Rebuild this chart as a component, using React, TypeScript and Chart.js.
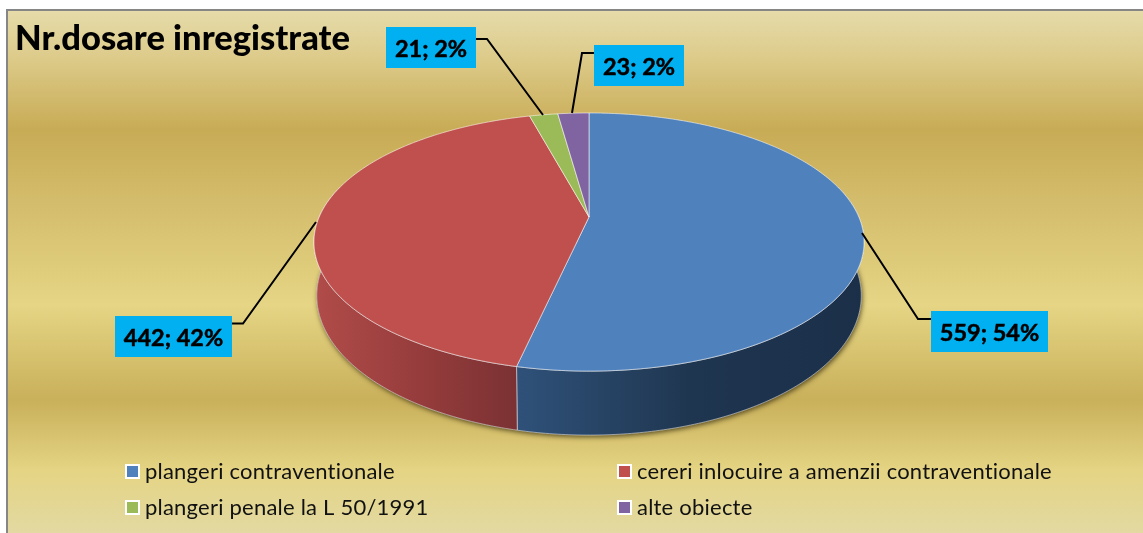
import React, { useEffect, useRef } from "react";
import { Chart, registerables, ArcElement, PieController } from "chart.js";

const categories = ["plangeri contraventionale", "cereri inlocuire a amenzii contraventionale", "plangeri penale la L 50/1991", "alte obiecte"];
const values = [559, 442, 21, 23];
const percents = [54, 42, 2, 2];
const topColors = ["#4f81bd", "#c0504d", "#9bbb59", "#8064a2"];
const titleText = "Nr.dosare inregistrate";

const WALL = [
  [[518, "#2f5179"], [690, "#1f3650"], [864, "#1b2f49"]],
  [[316, "#b04c49"], [420, "#963c3c"], [520, "#7a3133"]],
  [[530, "#7a8f45"], [560, "#7a8f45"]],
  [[560, "#5f4a7a"], [590, "#5f4a7a"]],
] as [number, string][][];

const labelBoxes = [
  { x: 931, y: 311, w: 117, h: 41, line: [[931, 319], [918, 319], [862, 233]] },
  { x: 115, y: 316, w: 117, h: 41, line: [[232, 323.5], [243, 323.5], [316, 222]] },
  { x: 386, y: 27, w: 90, h: 41, line: [[476, 39], [487, 39], [543, 115]] },
  { x: 594, y: 45, w: 90, h: 41, line: [[594, 53], [582, 53], [572, 113]] },
];
const legendPos = [[126, 472], [618, 472], [126, 508], [618, 508]];

const CX = 589, CY = 217, K = 0.194, AY = 124.2, BX = 269.8, DEPTH = 51.6;
const project = (a: number, r = 1, depth = 0, s = 1) => {
  const u = Math.cos(a) * r, v = Math.sin(a) * r, w = 1 - K * v;
  return [CX + (BX * s * u) / w, CY + (AY * v + depth) / w];
};
const SANS = "Lato, 'Open Sans', sans-serif";

function topPath(ctx: CanvasRenderingContext2D, a0: number, a1: number) {
  ctx.beginPath();
  ctx.moveTo(CX, CY);
  const n = Math.max(4, Math.ceil((a1 - a0) * 80));
  for (let i = 0; i <= n; i++) {
    const p = project(a0 + ((a1 - a0) * i) / n);
    ctx.lineTo(p[0], p[1]);
  }
  ctx.closePath();
}

class Arc3D extends ArcElement {
  static id = "arc3d";
  draw(ctx: CanvasRenderingContext2D) {
    const { startAngle, endAngle } = (this as any).getProps(["startAngle", "endAngle"]);
    ctx.save();
    topPath(ctx, startAngle, endAngle);
    ctx.fillStyle = (this as any).options.backgroundColor;
    ctx.fill();
    ctx.strokeStyle = "rgba(255,255,255,0.55)";
    ctx.lineWidth = 1;
    ctx.stroke();
    ctx.restore();
  }
}
class Pie3D extends PieController {
  static id = "pie3d";
  static defaults = { ...PieController.defaults, dataElementType: "arc3d" };
}
Chart.register(...registerables, Arc3D, Pie3D);

const decor = {
  id: "decor",
  beforeDraw(chart: any) {
    const { ctx, width, height } = chart;
    ctx.save();
    ctx.fillStyle = "#fff";
    ctx.fillRect(0, 0, width, height);
    const g = ctx.createLinearGradient(0, 9, 0, 533);
    const stops: [number, string][] = [
      [9, "#e6dcab"], [60, "#dcca88"], [130, "#c8ab55"], [200, "#d3bc6b"], [305, "#e5d584"],
      [400, "#c9b05b"], [470, "#e4d483"], [533, "#e3d9a2"],
    ];
    stops.forEach(([y, c]) => g.addColorStop((y - 9) / 524, c));
    ctx.fillStyle = g;
    ctx.fillRect(7, 9, width, height);
    ctx.strokeStyle = "#868686";
    ctx.lineWidth = 2;
    ctx.strokeRect(7, 10, width, height);
    ctx.restore();
  },
  beforeDatasetsDraw(chart: any) {
    const { ctx } = chart;
    const arcs = chart.getDatasetMeta(0).data;
    ctx.save();
    ctx.save();
    ctx.shadowColor = "rgba(50,40,10,0.75)";
    ctx.shadowBlur = 5;
    ctx.shadowOffsetY = 2;
    ctx.shadowOffsetX = 1;
    ctx.fillStyle = "#333";
    ctx.beginPath();
    for (let i = 0; i <= 200; i++) {
      const p = project(-0.2 + ((Math.PI + 0.4) * i) / 200, 1, DEPTH, 0.99);
      i ? ctx.lineTo(p[0], p[1]) : ctx.moveTo(p[0], p[1]);
    }
    ctx.closePath();
    ctx.fill();
    ctx.restore();
    arcs.forEach((arc: any, idx: number) => {
      const a0 = Math.max(arc.startAngle, -0.25);
      const a1 = Math.min(arc.endAngle, Math.PI + 0.25);
      if (a1 <= a0) return;
      const n = Math.ceil((a1 - a0) * 80);
      ctx.beginPath();
      for (let i = 0; i <= n; i++) {
        const p = project(a0 + ((a1 - a0) * i) / n);
        i ? ctx.lineTo(p[0], p[1]) : ctx.moveTo(p[0], p[1]);
      }
      for (let i = n; i >= 0; i--) {
        const p = project(a0 + ((a1 - a0) * i) / n, 1, DEPTH, 0.99);
        ctx.lineTo(p[0], p[1]);
      }
      ctx.closePath();
      const stops = WALL[idx];
      const x0 = stops[0][0], x1 = stops[stops.length - 1][0];
      const g = ctx.createLinearGradient(x0, 0, x1, 0);
      stops.forEach(([x, c]) => g.addColorStop((x - x0) / (x1 - x0), c));
      ctx.fillStyle = g;
      ctx.fill();
      ctx.strokeStyle = "rgba(255,255,255,0.5)";
      ctx.lineWidth = 1;
      ctx.stroke();
    });
    ctx.restore();
  },
  afterDatasetsDraw(chart: any) {
    const { ctx } = chart;
    const labels: string[] = chart.data.labels;
    const data: number[] = chart.data.datasets[0].data;
    ctx.save();
    ctx.textBaseline = "alphabetic";
    labelBoxes.forEach((b, i) => {
      ctx.strokeStyle = "#000";
      ctx.lineWidth = 2;
      ctx.beginPath();
      b.line.forEach((p, j) => (j ? ctx.lineTo(p[0], p[1]) : ctx.moveTo(p[0], p[1])));
      ctx.stroke();
      ctx.fillStyle = "#00b0f0";
      ctx.fillRect(b.x, b.y, b.w, b.h);
      ctx.fillStyle = "#000";
      ctx.font = `bold 23.5px ${SANS}`;
      ctx.textAlign = "center";
      const text = `${data[i]}; ${percents[i]}%`;
      ctx.fillText(text, b.x + b.w / 2, b.y + 30);
      ctx.strokeStyle = "#000";
      ctx.lineWidth = 0.5;
      ctx.strokeText(text, b.x + b.w / 2, b.y + 30);
    });
    ctx.textAlign = "left";
    labels.forEach((name, i) => {
      const [x, y] = legendPos[i];
      ctx.fillStyle = "#fff";
      ctx.fillRect(x - 1, y - 8, 15, 15);
      ctx.fillStyle = topColors[i];
      ctx.fillRect(x + 1, y - 6, 11, 11);
      ctx.fillStyle = "#111";
      ctx.font = `22px ${SANS}`;
      (ctx as any).letterSpacing = "0.22px";
      ctx.fillText(name, x + 19, y + 7);
    });
    ctx.restore();
  },
};

export default function App() {
  const ref = useRef<HTMLCanvasElement>(null);
  useEffect(() => {
    const chart = new Chart(ref.current!, {
      type: "pie3d" as any,
      data: {
        labels: categories,
        datasets: [{ data: values, backgroundColor: topColors, borderWidth: 0 }],
      },
      options: {
        animation: false,
        responsive: false,
        layout: { padding: { left: 15, top: 0 } },
        plugins: {
          legend: { display: false },
          tooltip: { enabled: false },
          title: {
            display: true,
            text: titleText,
            align: "start",
            color: "#000",
            font: { family: SANS, size: 34.5, weight: "900" },
            padding: { top: 18, bottom: 10 },
          },
        },
      },
      plugins: [decor],
    } as any);
    return () => chart.destroy();
  }, []);
  return (
    <div style={{ position: "fixed", left: 0, top: 0, width: 1143, height: 533 }}>
      <canvas ref={ref} width={1143} height={533} style={{ display: "block", width: 1143, height: 533 }} />
    </div>
  );
}
